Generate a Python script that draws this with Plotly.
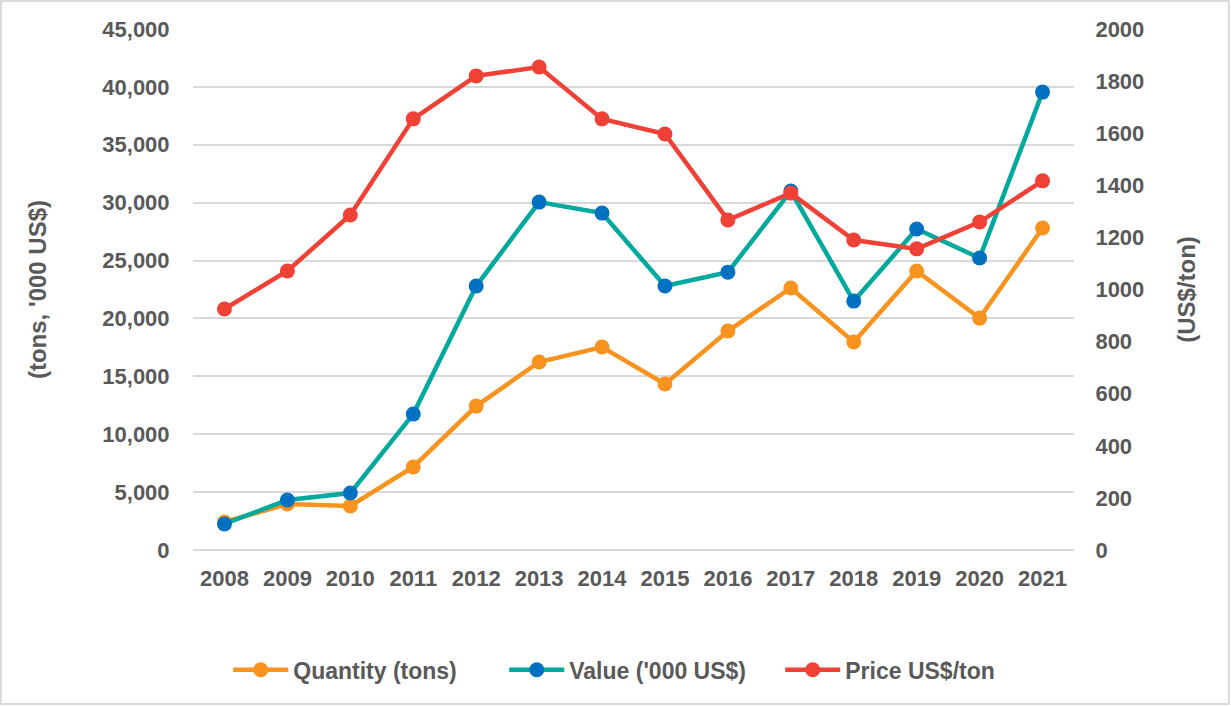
import plotly.graph_objects as go

years = ["2008", "2009", "2010", "2011", "2012", "2013", "2014",
         "2015", "2016", "2017", "2018", "2019", "2020", "2021"]
quantity = [2420, 3970, 3800, 7170, 12430, 16240, 17530,
            14340, 18910, 22630, 17960, 24100, 20030, 27810]
value = [2250, 4320, 4920, 11740, 22800, 30050, 29100,
         22800, 24000, 31000, 21500, 27720, 25220, 39550]
price = [925, 1071, 1286, 1655, 1820, 1854, 1655,
         1597, 1267, 1370, 1190, 1156, 1259, 1417]

fnt = "Liberation Sans, Arial, sans-serif"
grey = "#595959"
clear = "rgba(0,0,0,0)"

def tf(size):
    return dict(size=size, family=fnt, color=grey, weight="bold")

fig = go.Figure()
fig.add_trace(go.Scatter(x=years, y=quantity, name="Quantity (tons)", mode="lines+markers",
                         line=dict(color="#F7931E", width=4.5),
                         marker=dict(color="#F7931E", size=15)))
fig.add_trace(go.Scatter(x=years, y=value, name="Value ('000 US$)", mode="lines+markers",
                         line=dict(color="#00A99D", width=4.5),
                         marker=dict(color="#0070C0", size=15)))
fig.add_trace(go.Scatter(x=years, y=price, name="Price US$/ton", mode="lines+markers",
                         line=dict(color="#EF4136", width=4.5),
                         marker=dict(color="#EF4136", size=15), yaxis="y2"))

fig.update_layout(
    width=1231, height=706,
    paper_bgcolor="white", plot_bgcolor="white",
    margin=dict(l=193, r=157, t=29, b=156, autoexpand=False),
    font=tf(22),
    xaxis=dict(type="category", range=[-0.5, len(years) - 0.5], showgrid=False,
               showline=False, automargin=False,
               ticks="outside", ticklen=9, tickcolor=clear, tickfont=tf(22)),
    yaxis=dict(range=[0, 45000], dtick=5000, tickformat=",", showgrid=True,
               gridcolor="#D9D9D9", gridwidth=1.5, zeroline=True, zerolinecolor="#D9D9D9",
               zerolinewidth=1.5, automargin=False,
               ticks="outside", ticklen=18, tickcolor=clear, tickfont=tf(22),
               title=dict(text="(tons, '000 US$)", standoff=48, font=tf(24))),
    yaxis2=dict(range=[0, 2000], dtick=200, overlaying="y", side="right",
                showgrid=False, zeroline=False, automargin=False,
                ticks="outside", ticklen=16, tickcolor=clear, tickfont=tf(22),
                title=dict(text="(US$/ton)", standoff=34, font=tf(24))),
    legend=dict(orientation="h", x=0.04, xanchor="left", y=-0.23, yanchor="middle",
                font=tf(23), itemwidth=55, entrywidth=206, entrywidthmode="pixels",
                tracegroupgap=0),
    showlegend=True,
)

# light chart-area border, like the spreadsheet original
fig.add_shape(type="rect", xref="paper", yref="paper",
              x0=-192 / 881, y0=-154 / 521, x1=1 + 155 / 881, y1=1 + 28 / 521,
              line=dict(color="#D0D0D0", width=1.5), layer="above")

fig.write_html("out.html", config={"displayModeBar": False},
               post_script="document.body.style.margin='0';")
